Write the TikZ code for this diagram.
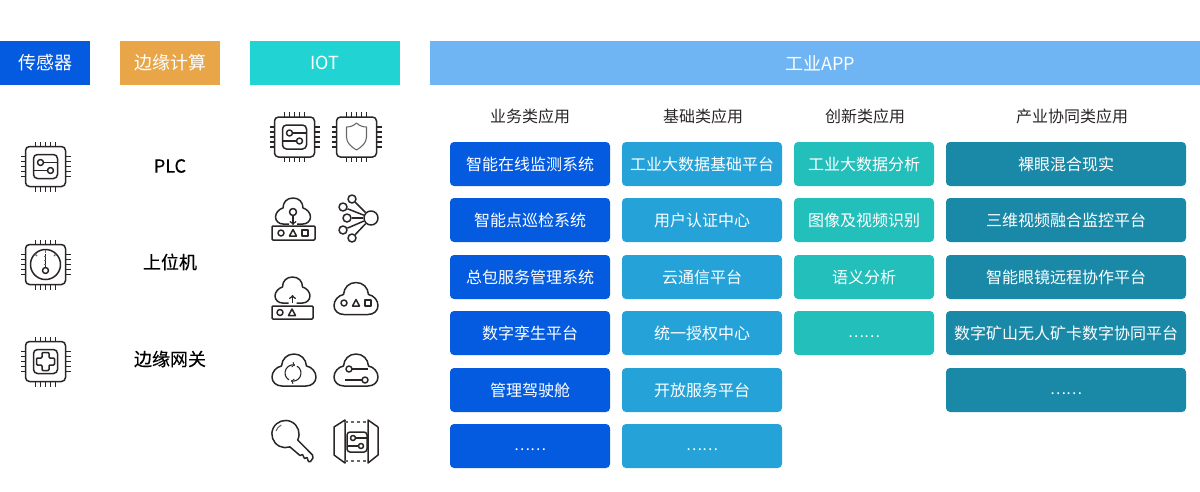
\documentclass[tikz,border=0pt]{standalone}
\usepackage{xcolor}
\usepackage{fontspec}
\setmainfont{Noto Sans CJK SC}
\newfontfamily\medfont[FakeBold=0.3]{Noto Sans CJK SC}
\usetikzlibrary{positioning, calc, arrows}

\definecolor{sensorblue}{HTML}{045BE0}
\definecolor{edgeorange}{HTML}{E8A648}
\definecolor{iotteal}{HTML}{22D3D3}
\definecolor{appsky}{HTML}{6FB4F3}
\definecolor{baseblue}{HTML}{25A3D9}
\definecolor{newteal}{HTML}{23BFBB}
\definecolor{induteal}{HTML}{1A89A8}
\definecolor{iconink}{HTML}{2A2626}

\tikzset{
    icon/.style={draw=iconink, line width=1.5pt, line join=round},
    thinicon/.style={draw=iconink!70, line width=1.1pt, line join=round},
    bar/.style={fill=#1, text=white, font=\fontsize{18}{18}\selectfont, minimum height=44pt, inner sep=0pt},
    cell/.style={fill=#1, text=white, rounded corners=4pt, font=\fontsize{16}{16}\selectfont, minimum height=44pt, inner sep=0pt},
    bizcell/.style={cell=sensorblue, minimum width=160pt},
    basecell/.style={cell=baseblue, minimum width=160pt},
    newcell/.style={cell=newteal, minimum width=140pt},
    inducell/.style={cell=induteal, minimum width=240pt},
    moredots/.style={text=white, yshift=-3.5pt, inner sep=0pt, font=\fontsize{15}{15}\selectfont},
    colhead/.style={text=iconink, font=\fontsize{16}{16}\selectfont, inner sep=0pt},
    edgelabel/.style={text=black, font=\fontsize{18}{18}\medfont, inner sep=0pt},
    netdot/.style={circle, icon, fill=white, minimum size=#1, inner sep=0pt},
    % Icons
    chip/.pic={
        \draw[icon, rounded corners=4pt] (-20,-20) rectangle (20,20);
        \foreach \p in {-10,-5,0,5,10} {
            \draw[icon] (\p,-20) -- (\p,-25);
            \draw[icon] (\p,20) -- (\p,25);
            \draw[icon] (-20,\p) -- (-25,\p);
            \draw[icon] (20,\p) -- (25,\p);
        }
    },
    circuit/.pic={
        \draw[icon, rounded corners=4pt] (-12,-12) rectangle (12,12);
        \draw[icon] (-5,-4) circle (3);
        \draw[icon] (5,4) circle (3);
        \draw[icon] (-2,-4) -- (12,-4);
        \draw[icon] (-12,4) -- (2,4);
    },
    minicircuit/.pic={
        \draw[icon, rounded corners=3pt] (-10,-10) rectangle (10,10);
        \draw[icon] (-4,-4) circle (2.5);
        \draw[icon] (4,4) circle (2.5);
        \draw[icon] (-1.5,-4) -- (10,-4);
        \draw[icon] (-10,4) -- (1.5,4);
    },
    gauge/.pic={
        \draw[icon] (0,0) circle (15);
        \draw[icon] (0,6) circle (3);
        \draw[icon] (0,3) -- (0,-11);
        \draw[thinicon] (0,-15) -- (0,-12);
        \draw[thinicon] (-10.6,-10.6) -- (-8.5,-8.5);
        \draw[thinicon] (10.6,-10.6) -- (8.5,-8.5);
        \draw[thinicon] (-2,-8) -- (0,-8);
        \draw[thinicon] (-2,-4) -- (0,-4);
        \draw[thinicon] (-2,0) -- (0,0);
    },
    plusmark/.pic={
        \draw[icon, rounded corners=4pt] (-12,-12) rectangle (12,12);
        \draw[icon, rounded corners=1pt] (-3.5,-9) -- (3.5,-9) -- (3.5,-3.5) -- (9,-3.5) -- (9,3.5) -- (3.5,3.5) -- (3.5,9) -- (-3.5,9) -- (-3.5,3.5) -- (-9,3.5) -- (-9,-3.5) -- (-3.5,-3.5) -- cycle;
    },
    shield/.pic={
        \draw[thinicon] (0,-14) .. controls (3,-11) and (7,-10) .. (10,-10) -- (10,0) .. controls (10,6) and (5,10) .. (0,13) .. controls (-5,10) and (-10,6) .. (-10,0) -- (-10,-10) .. controls (-7,-10) and (-3,-11) .. (0,-14) -- cycle;
    },
    cloudshape/.pic={
        \draw[icon] (-12,16) .. controls (-18,16) and (-22,12) .. (-22,7) .. controls (-22,2) and (-18,-3) .. (-12.5,-4) .. controls (-12,-11) and (-7,-16) .. (0,-16) .. controls (7,-16) and (12,-11) .. (12.5,-4) .. controls (18,-3) and (22,2) .. (22,7) .. controls (22,12) and (18,16) .. (12,16) -- cycle;
    },
    opencloud/.pic={
        \draw[icon] (-4,13) -- (-10,13) .. controls (-14,13) and (-17.5,10) .. (-17.5,6) .. controls (-17.5,2) and (-14,-2) .. (-10,-3) .. controls (-10,-9) and (-6,-13) .. (0,-13) .. controls (6,-13) and (10,-9) .. (10,-3) .. controls (14,-2) and (17.5,2) .. (17.5,6) .. controls (17.5,10) and (14,13) .. (10,13) -- (4,13);
    },
    minishapes/.pic={
        \draw[icon] (-12,0) circle (3);
        \draw[icon] (0,-3.5) -- (3.5,3) -- (-3.5,3) -- cycle;
        \draw[icon] (9,-3) rectangle (15,3);
    },
    keyshape/.pic={
        \draw[icon] (12.2,6) arc[start angle=26, end angle=-289, radius=13.6] -- (14.5,21.5) -- (17,20.5) -- (19,24.5) -- (21.5,23.5) -- (23,27.5) -- (25,27.5) -- (27.5,24) -- (27,21) -- cycle;
        \draw[thinicon] (-9.5,-3) arc[start angle=-162, end angle=-115, radius=10];
    },
}

\begin{document}
\begin{tikzpicture}[x=1pt, y=-1pt]
    \useasboundingbox (0,0) rectangle (1200,491);

    % Header bars
    \node[bar=sensorblue, minimum width=90pt] (sensorbar) at (45,63) {传感器};
    \node[bar=edgeorange, minimum width=100pt] (edgebar) at (170,63) {边缘计算};
    \node[bar=iotteal, minimum width=150pt] (iotbar) at (325,63) {IOT};
    \node[bar=appsky, minimum width=770pt] (appbar) at (815,63) {\hspace{10pt}工业APP};

    % Sensor icons
    \pic at (45.5,166.5) {chip};
    \pic at (45.5,166.5) {circuit};
    \pic at (45.5,264.5) {chip};
    \pic at (45.5,264.5) {gauge};
    \pic at (45.5,361.5) {chip};
    \pic at (45.5,361.5) {plusmark};

    % Edge labels
    \node[edgelabel] (plc) at (170,166) {PLC};
    \node[edgelabel] (hostpc) at (170,262) {上位机};
    \node[edgelabel] (gateway) at (170,359) {边缘网关};

    % IOT icons
    \pic at (294.5,137) {chip};
    \pic at (294.5,137) {circuit};
    \pic at (356.5,137) {chip};
    \pic at (356.5,137) {shield};

    \pic at (293,211) {opencloud};
    \draw[icon] (293,212) circle (3.5);
    \draw[icon, ->] (293,215.5) -- (293,225);
    \draw[icon, rounded corners=1pt] (272,226) rectangle (315,240);
    \pic at (293,233) {minishapes};

    \node[netdot=14pt] (hub) at (371,218) {};
    \node[netdot=8pt] (leafa) at (352,199) {};
    \node[netdot=8pt] (leafb) at (343,207) {};
    \node[netdot=8pt] (leafc) at (347,218) {};
    \node[netdot=8pt] (leafd) at (343,230) {};
    \node[netdot=8pt] (leafe) at (352,238) {};
    \draw[icon] (leafa) -- (hub);
    \draw[icon] (leafb) -- (hub);
    \draw[icon] (leafc) -- (hub);
    \draw[icon] (leafd) -- (hub);
    \draw[icon] (leafe) -- (hub);

    \pic at (292.5,290) {opencloud};
    \draw[icon, ->] (292.5,303) -- (292.5,295);
    \draw[icon, rounded corners=1pt] (272,306) rectangle (313,319);
    \draw[icon] (280,312.5) circle (3);
    \draw[icon] (292,309) -- (295.5,315.5) -- (288.5,315.5) -- cycle;

    \pic at (356,298.5) {cloudshape};
    \pic at (356,303) {minishapes};

    \pic at (294,370) {cloudshape};
    \draw[thinicon, draw=iconink, ->] (289,379.9) arc[start angle=120, end angle=285, radius=8];
    \draw[thinicon, draw=iconink, ->] (297,366.1) arc[start angle=-60, end angle=105, radius=8];

    \pic at (356,370) {cloudshape};
    \draw[icon] (349,369) circle (3);
    \draw[icon] (365,380) circle (3);
    \draw[icon] (352,369) -- (368,369);
    \draw[icon] (345,380) -- (362,380);

    \pic at (285.5,434) {keyshape};

    \draw[icon] (345,420) -- (334,427) -- (334,455) -- (345,463) -- cycle;
    \draw[icon] (368,420) -- (378,427) -- (378,455) -- (368,463) -- cycle;
    \draw[thinicon, dashed] (345,422) -- (368,422);
    \draw[thinicon, dashed] (345,461) -- (368,461);
    \pic at (357,442) {minicircuit};

    % Column heads
    \node[colhead] (bizhead) at (530,116) {业务类应用};
    \node[colhead] (basehead) at (703,116) {基础类应用};
    \node[colhead] (newhead) at (865,116) {创新类应用};
    \node[colhead] (induhead) at (1072,116) {产业协同类应用};

    % Business apps
    \node[bizcell] (biza) at (530,164) {智能在线监测系统};
    \node[bizcell] (bizb) at (530,220) {智能点巡检系统};
    \node[bizcell] (bizc) at (530,277) {总包服务管理系统};
    \node[bizcell] (bizd) at (530,333) {数字孪生平台};
    \node[bizcell] (bize) at (530,390) {管理驾驶舱};
    \node[bizcell, label={[moredots]center:……}] (bizf) at (530,446) {};

    % Base apps
    \node[basecell] (basea) at (702,164) {工业大数据基础平台};
    \node[basecell] (baseb) at (702,220) {用户认证中心};
    \node[basecell] (basec) at (702,277) {云通信平台};
    \node[basecell] (based) at (702,333) {统一授权中心};
    \node[basecell] (basee) at (702,390) {开放服务平台};
    \node[basecell, label={[moredots]center:……}] (basef) at (702,446) {};

    % Innovation apps
    \node[newcell] (newa) at (864,164) {工业大数据分析};
    \node[newcell] (newb) at (864,220) {图像及视频识别};
    \node[newcell] (newc) at (864,277) {语义分析};
    \node[newcell, label={[moredots]center:……}] (newd) at (864,333) {};

    % Industry apps
    \node[inducell] (indua) at (1066,164) {裸眼混合现实};
    \node[inducell] (indub) at (1066,220) {三维视频融合监控平台};
    \node[inducell] (induc) at (1066,277) {智能眼镜远程协作平台};
    \node[inducell] (indud) at (1066,333) {数字矿山无人矿卡数字协同平台};
    \node[inducell, label={[moredots]center:……}] (indue) at (1066,390) {};
\end{tikzpicture}
\end{document}
